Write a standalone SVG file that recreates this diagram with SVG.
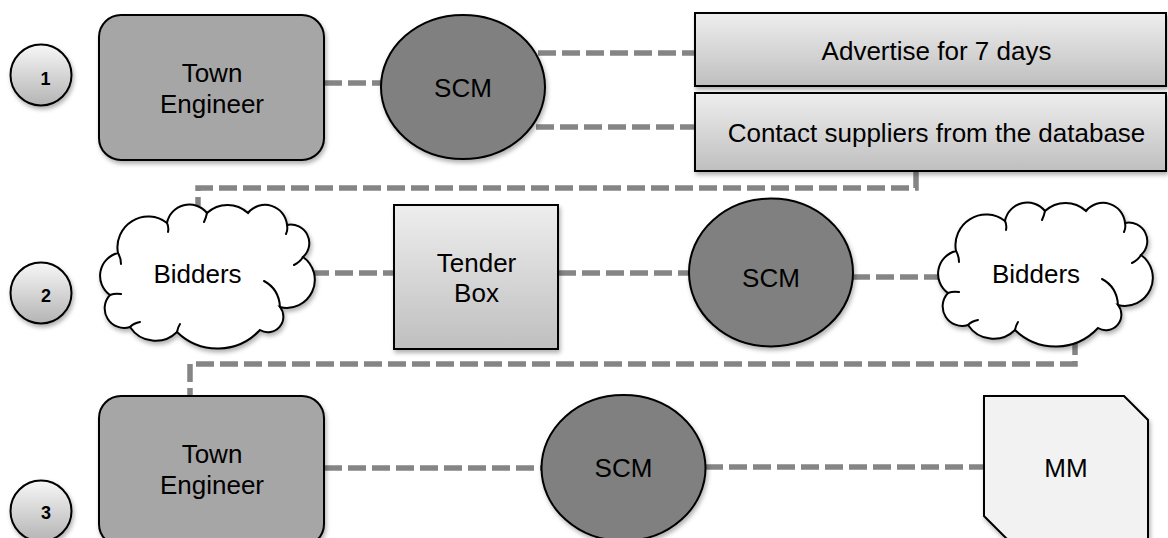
<svg xmlns="http://www.w3.org/2000/svg" width="1168" height="538" viewBox="0 0 1168 538">
  <defs>
    <style>
      .lbl { font-family: "Liberation Sans", Arial, sans-serif; font-size: 26px; fill: #000; text-anchor: middle; }
      .num { font-family: "Liberation Sans", Arial, sans-serif; font-size: 18px; font-weight: bold; fill: #000; text-anchor: middle; }
      .edge { fill: none; stroke: #858585; stroke-width: 5.5; stroke-dasharray: 18 6; }
      .outline { stroke: #000; stroke-width: 2; }
      .curl { fill: none; stroke: #000; stroke-width: 2; stroke-linecap: round; }
    </style>
    <linearGradient id="gradNum" x1="0" y1="0" x2="0" y2="1">
      <stop offset="0" stop-color="#f7f7f7"/>
      <stop offset="1" stop-color="#b4b4b4"/>
    </linearGradient>
    <linearGradient id="gradBox" x1="0" y1="0" x2="0" y2="1">
      <stop offset="0" stop-color="#eeeeee"/>
      <stop offset="1" stop-color="#bfbfbf"/>
    </linearGradient>
    <filter id="shadow" x="-10%" y="-10%" width="125%" height="130%">
      <feDropShadow dx="1.5" dy="3" stdDeviation="2" flood-color="#000" flood-opacity="0.3"/>
    </filter>
    <!-- cloud outline in a 212 x 145 local box -->
    <path id="cloudShape" d="M18,48 A30.7,30.7 0 0 1 67,18 A22.7,22.7 0 0 1 107,8 A30,30 0 0 1 148,8 A22,22 0 0 1 187,20 A18.5,18.5 0 0 1 203,52 A28,28 0 0 1 180,102 A15.5,15.5 0 0 1 160,125 A58,58 0 0 1 77,127 A30.6,30.6 0 0 1 30,122 A19.5,19.5 0 0 1 10,90 A23.5,23.5 0 0 1 18,48 Z"/>
    <path id="cloudCurls" d="M18,48 q3,5 3,11 M67,18 q2,4 1,9 M107,8 q-1,5 -3,9 M187,20 q1,5 -1,9 M203,52 q-3,5 -9,8 M180,102 q-1,-18 -16,-26 M77,127 q1,-5 3,-8 M30,122 q4,-4 10,-5 M10,90 q5,-2 11,-1"/>
  </defs>

  <rect width="1168" height="538" fill="#fff"/>

  <!-- connectors -->
  <g id="connectors">
    <line class="edge" x1="324" y1="83" x2="382" y2="83"/>
    <line class="edge" x1="538" y1="53" x2="695" y2="53"/>
    <line class="edge" x1="536" y1="127" x2="695" y2="127"/>
    <path class="edge" d="M916,171 V188 H198 V206"/>
    <line class="edge" x1="311" y1="273" x2="394" y2="273"/>
    <line class="edge" x1="558" y1="273" x2="690" y2="273"/>
    <line class="edge" x1="852" y1="277" x2="940" y2="277"/>
    <path class="edge" d="M1075,337 V364 H190 V396"/>
    <line class="edge" x1="324" y1="468" x2="542" y2="468"/>
    <line class="edge" x1="705" y1="467" x2="984" y2="467"/>
  </g>

  <!-- step markers -->
  <g id="step1">
    <circle cx="41" cy="75" r="30.5" fill="url(#gradNum)" class="outline" filter="url(#shadow)"/>
    <text class="num" x="45.5" y="85">1</text>
  </g>
  <g id="step2">
    <circle cx="41" cy="293" r="30.5" fill="url(#gradNum)" class="outline" filter="url(#shadow)"/>
    <text class="num" x="46" y="301.5">2</text>
  </g>
  <g id="step3">
    <circle cx="41" cy="511" r="30.5" fill="url(#gradNum)" class="outline" filter="url(#shadow)"/>
    <text class="num" x="46" y="519">3</text>
  </g>

  <!-- row 1 -->
  <g id="town-engineer-1">
    <rect x="99" y="15" width="225" height="145" rx="22" fill="#a6a6a6" class="outline" filter="url(#shadow)"/>
    <text class="lbl" x="212" y="82">Town</text>
    <text class="lbl" x="212" y="112.5">Engineer</text>
  </g>
  <g id="scm-1">
    <ellipse cx="463" cy="87" rx="82" ry="72" fill="#808080" class="outline" filter="url(#shadow)"/>
    <text class="lbl" x="463" y="97">SCM</text>
  </g>
  <g id="advertise">
    <rect x="695" y="13" width="471" height="73" fill="url(#gradBox)" class="outline" filter="url(#shadow)"/>
    <text class="lbl" x="936.5" y="60">Advertise for 7 days</text>
  </g>
  <g id="contact-suppliers">
    <rect x="695" y="93" width="471" height="78" fill="url(#gradBox)" class="outline" filter="url(#shadow)"/>
    <text class="lbl" x="936.5" y="142">Contact suppliers from the database</text>
  </g>

  <!-- row 2 -->
  <g id="bidders-1">
    <g transform="translate(100,205)">
      <use href="#cloudShape" fill="#fff" class="outline" filter="url(#shadow)"/>
      <use href="#cloudCurls" class="curl"/>
    </g>
    <text class="lbl" x="197.5" y="283">Bidders</text>
  </g>
  <g id="tender-box">
    <rect x="394" y="205" width="164" height="144" fill="url(#gradBox)" class="outline" filter="url(#shadow)"/>
    <text class="lbl" x="476.5" y="271.5">Tender</text>
    <text class="lbl" x="476.5" y="301.5">Box</text>
  </g>
  <g id="scm-2">
    <ellipse cx="771" cy="272.5" rx="82" ry="74" fill="#808080" class="outline" filter="url(#shadow)"/>
    <text class="lbl" x="771" y="286.5">SCM</text>
  </g>
  <g id="bidders-2">
    <g transform="translate(938,203)">
      <use href="#cloudShape" fill="#fff" class="outline" filter="url(#shadow)"/>
      <use href="#cloudCurls" class="curl"/>
    </g>
    <text class="lbl" x="1036" y="283">Bidders</text>
  </g>

  <!-- row 3 -->
  <g id="town-engineer-2">
    <rect x="99" y="396" width="225" height="150" rx="22" fill="#a6a6a6" class="outline" filter="url(#shadow)"/>
    <text class="lbl" x="212" y="463">Town</text>
    <text class="lbl" x="212" y="493.5">Engineer</text>
  </g>
  <g id="scm-3">
    <ellipse cx="623.5" cy="468" rx="82" ry="73" fill="#808080" class="outline" filter="url(#shadow)"/>
    <text class="lbl" x="623.5" y="477">SCM</text>
  </g>
  <g id="mm">
    <polygon points="984,396 1124,396 1148,420 1148,545 1013,545 984,516" fill="#f2f2f2" class="outline" filter="url(#shadow)"/>
    <text class="lbl" x="1066" y="477">MM</text>
  </g>
</svg>
